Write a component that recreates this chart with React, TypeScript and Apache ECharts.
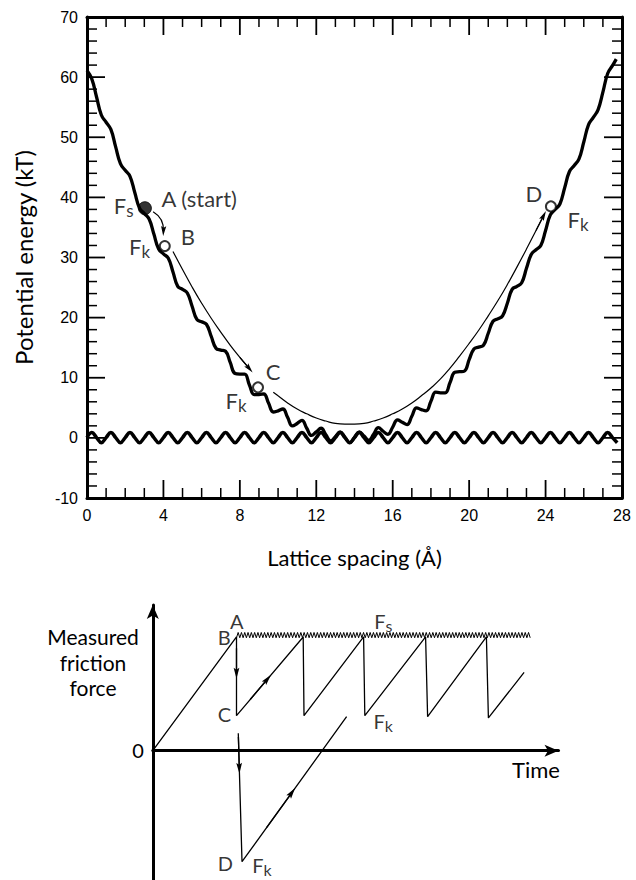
import React, { useEffect, useRef } from "react";
import * as echarts from "echarts";

// ================= TOP PANEL DATA =================
// curves are digitised at a regular step along the lattice-spacing axis (Å)
const SAMPLE_STEP = 0.25;

// corrugated potential (thick curve), x = 0 … 27.5 Å
const corrugatedEnergy = [
  61.1, 59.7, 56.7, 53.7,
  52.5, 51.3, 48.4, 45.6,
  44.5, 43.5, 40.8, 38.2,
  37.3, 36.4, 33.9, 31.4,
  30.6, 29.9, 27.6, 25.2,
  24.7, 24.1, 21.9, 19.7,
  19.3, 18.9, 16.9, 14.9,
  14.6, 14.4, 12.5, 10.7,
  10.6, 10.6, 8.8, 7.2,
  7.2, 7.3, 5.8, 4.3,
  4.5, 4.8, 3.4, 2.0,
  2.4, 2.9, 1.6, 0.4,
  1.0, 1.6, 0.5, -0.5,
  0.2, 1.0, 0.1, -0.8,
  0.1, 1.0, 0.3, -0.4,
  0.6, 1.7, 1.1, 0.6,
  1.8, 3.0, 2.6, 2.2,
  3.6, 5.0, 4.7, 4.5,
  6.1, 7.6, 7.5, 7.5,
  9.2, 10.9, 11.0, 11.1,
  13.0, 14.8, 15.1, 15.4,
  17.4, 19.4, 19.8, 20.3,
  22.4, 24.7, 25.2, 25.8,
  28.2, 30.5, 31.3, 32.0,
  34.5, 37.1, 38.0, 38.9,
  41.6, 44.3, 45.3, 46.4,
  49.2, 52.1, 53.3, 54.6,
  57.5, 60.6, 61.9,
];
const corrugatedLastX = 27.7;
const corrugatedLastY = 63.0;

// flat lattice corrugation (thick wave near 0), x = 0 … 27.75 Å
const latticeWave = [
  0.05, 0.9, 0.05, -0.8, 0.05, 0.9, 0.05, -0.8, 0.05, 0.9, 0.05, -0.8, 0.05, 0.9, 0.05, -0.8,
  0.05, 0.9, 0.05, -0.8, 0.05, 0.9, 0.05, -0.8, 0.05, 0.9, 0.05, -0.8, 0.05, 0.9, 0.05, -0.8,
  0.05, 0.9, 0.05, -0.8, 0.05, 0.9, 0.05, -0.8, 0.05, 0.9, 0.05, -0.8, 0.05, 0.9, 0.05, -0.8,
  0.05, 0.9, 0.05, -0.8, 0.05, 0.9, 0.05, -0.8, 0.05, 0.9, 0.05, -0.8, 0.05, 0.9, 0.05, -0.8,
  0.05, 0.9, 0.05, -0.8, 0.05, 0.9, 0.05, -0.8, 0.05, 0.9, 0.05, -0.8, 0.05, 0.9, 0.05, -0.8,
  0.05, 0.9, 0.05, -0.8, 0.05, 0.9, 0.05, -0.8, 0.05, 0.9, 0.05, -0.8, 0.05, 0.9, 0.05, -0.8,
  0.05, 0.9, 0.05, -0.8, 0.05, 0.9, 0.05, -0.8, 0.05, 0.9, 0.05, -0.8, 0.05, 0.9, 0.05, -0.8,
];

// smooth (thin) path, two segments
const pathLeftX = [4.5, 5, 5.5, 6, 6.5, 7, 7.5, 8, 8.5];
const pathLeftY = [31.0, 28.0, 25.1, 22.4, 19.9, 17.6, 15.4, 13.4, 11.5];
const pathRightX = [9.75, 10, 10.5, 11, 11.5, 12, 12.5, 13, 13.5, 14, 14.5, 15, 15.5, 16, 16.5, 17, 17.5, 18, 18.5, 19, 19.5, 20, 20.5, 21, 21.5, 22, 22.5, 23, 23.5, 23.9];
const pathRightY = [7.6, 7.0, 5.8, 4.8, 4.0, 3.3, 2.8, 2.4, 2.3, 2.3, 2.4, 2.8, 3.3, 4.0, 4.8, 5.8, 7.0, 8.3, 9.8, 11.6, 13.6, 15.7, 17.9, 20.3, 22.8, 25.5, 28.4, 31.4, 34.5, 37.0];

// state points A (filled), B, C, D (open)
const stateNames = ["A", "B", "C", "D"];
const stateX = [3.03, 4.07, 8.95, 24.28];
const stateY = [38.2, 31.9, 8.4, 38.5];
const stateFilled = [true, false, false, false];

// small curved arrow from A to B
const slipArrowFrom = [3.46, 37.6];
const slipArrowTo = [4.0, 34.4];

// text annotations (left edge, vertical middle)
const topLabelText = ["A (start)", "F", "B", "F", "C", "F", "D", "F"];
const topLabelSub = ["", "s", "", "k", "", "k", "", "k"];
const topLabelX = [3.9, 1.4, 4.9, 2.2, 9.35, 7.25, 22.95, 25.15];
const topLabelY = [39.75, 38.6, 33.5, 31.9, 10.96, 6.14, 40.6, 36.4];

// axis ranges and tick spacing of the top panel
const xMin = 0;
const xMax = 28;
const xTickStep = 4;
const xMinorStep = 1;
const yMin = -10;
const yMax = 70;
const yTickStep = 10;
const yMinorStep = 2;

// ================= BOTTOM PANEL DATA (schematic units) =================
const traceX = [0, 20.63, 20.63, 37.07, 37.27, 51.96, 52.26, 67.24, 67.74, 82.23, 82.72, 91.52];
const traceY = [0, 1, 0.308, 1, 0.308, 1, 0.308, 1, 0.299, 1, 0.288, 0.688];
const branchX = [21.07, 21.99, 47.77];
const branchY = [0.153, -0.976, 0.299];
const staticLevelFrom = 20.63;
const staticLevelTo = 93.22;
const staticLevel = 1;
const bottomArrowFromX = [20.63, 24, 21.1, 28];
const bottomArrowFromY = [0.9, 0.45, 0.12, -0.679];
const bottomArrowToX = [20.63, 28.27, 21.32, 34.29];
const bottomArrowToY = [0.681, 0.63, -0.155, -0.368];
const bottomLabelText = ["A", "B", "F", "C", "F", "D", "F"];
const bottomLabelSub = ["", "", "s", "", "k", "", "k"];
const bottomLabelX = [19.0, 16.0, 54.6, 16.0, 54.4, 16.0, 24.5];
const bottomLabelY = [1.136, 0.996, 1.136, 0.32, 0.263, -0.99, -1.005];

const FONT = "Lato, 'Open Sans', sans-serif";
const NUM_FONT = "'Liberation Sans', Arial, sans-serif";
const ARROW = "path://M-5,0 M5,10 M0,0 L2.6,10 L0,8.2 L-2.6,10 Z";

const TOP_GRID = { left: 87, top: 17, width: 535, height: 481 };
const MAJOR_LEN = 18;
const MINOR_LEN = 10;

const zip = (xs: number[], ys: number[]) => xs.map((x, i) => [x, ys[i]]);

function frameAxis(min: number, max: number, interval: number, position: string, labels: boolean) {
  return {
    type: "value",
    gridIndex: 0,
    position,
    min,
    max,
    interval,
    axisLine: { show: true, onZero: false, lineStyle: { color: "#000", width: 3 } },
    axisTick: { show: false },
    minorTick: { show: false },
    splitLine: { show: false },
    minorSplitLine: { show: false },
    axisLabel: { show: labels, color: "#000", fontSize: 16, fontFamily: NUM_FONT, margin: 9 },
  };
}

const isMultiple = (v: number, base: number, step: number) => {
  const r = (v - base) / step;
  return Math.abs(r - Math.round(r)) < 1e-6;
};

// tick marks as thin rectangular symbols anchored on the frame, pointing inward
function frameTickItems() {
  const items: any[] = [];
  for (let v = xMin; v <= xMax + 1e-9; v += xMinorStep) {
    const major = isMultiple(v, xMin, xTickStep);
    const len = major ? MAJOR_LEN : MINOR_LEN;
    const w = major ? 1.8 : 1.5;
    items.push({ value: [v, yMin], symbolSize: [w, len], symbolOffset: [0, -len / 2] });
    items.push({ value: [v, yMax], symbolSize: [w, len], symbolOffset: [0, len / 2] });
  }
  for (let v = yMin; v <= yMax + 1e-9; v += yMinorStep) {
    const major = isMultiple(v, yMin, yTickStep);
    const len = major ? MAJOR_LEN : MINOR_LEN;
    const w = major ? 1.8 : 1.5;
    items.push({ value: [xMin, v], symbolSize: [len, w], symbolOffset: [len / 2, 0] });
    items.push({ value: [xMax, v], symbolSize: [len, w], symbolOffset: [-len / 2, 0] });
  }
  return items;
}

function labelSeries(axisIdx: number, texts: string[], subs: string[], xs: number[], ys: number[], big: number, small: number, pad: number) {
  return {
    type: "scatter",
    xAxisIndex: axisIdx,
    yAxisIndex: axisIdx,
    symbolSize: 1,
    silent: true,
    z: 10,
    itemStyle: { color: "rgba(0,0,0,0)" },
    label: {
      show: true,
      position: "inside",
      align: "left",
      verticalAlign: "middle",
      rich: {
        f: { fontSize: big, fontFamily: FONT, color: "#000" },
        s: { fontSize: small, fontFamily: FONT, color: "#000", padding: [pad, 0, 0, 0] },
      },
    },
    data: texts.map((t, i) => ({
      value: [xs[i], ys[i]],
      label: { formatter: subs[i] ? `{f|${t}}{s|${subs[i]}}` : `{f|${t}}` },
    })),
  };
}

export default function App() {
  const ref = useRef<HTMLDivElement>(null);

  useEffect(() => {
    if (!ref.current) return;
    const chart = echarts.init(ref.current, undefined, { renderer: "svg" });

    const corrugated = corrugatedEnergy.map((y, i) => [i * SAMPLE_STEP, y]);
    corrugated.push([corrugatedLastX, corrugatedLastY]);
    const wave = latticeWave.map((y, i) => [i * SAMPLE_STEP, y]);
    const leftPath = zip(pathLeftX, pathLeftY);
    const rightPath = zip(pathRightX, pathRightY);

    const option: any = {
      animation: false,
      backgroundColor: "#fff",
      grid: [
        { show: false, ...TOP_GRID },
        { show: false, left: 152.8, top: 605, width: 405.7, height: 275 },
      ],
      xAxis: [
        {
          ...frameAxis(xMin, xMax, xTickStep, "bottom", true),
          name: "Lattice spacing (Å)",
          nameLocation: "middle",
          nameGap: 48,
          nameTextStyle: { fontSize: 22, fontFamily: FONT, color: "#000" },
        },
        frameAxis(xMin, xMax, xTickStep, "top", false),
        {
          type: "value",
          gridIndex: 1,
          min: 0,
          max: 100,
          axisLine: { show: true, onZero: true, symbol: ["none", "arrow"], symbolSize: [9, 14], lineStyle: { color: "#000", width: 3 } },
          axisTick: { show: false },
          axisLabel: { show: false },
          splitLine: { show: false },
        },
      ],
      yAxis: [
        {
          ...frameAxis(yMin, yMax, yTickStep, "left", true),
          name: "Potential energy (kT)",
          nameLocation: "middle",
          nameRotate: 90,
          nameGap: 52,
          nameTextStyle: { fontSize: 24, fontFamily: FONT, color: "#000" },
        },
        frameAxis(yMin, yMax, yTickStep, "right", false),
        {
          type: "value",
          gridIndex: 1,
          min: -1.137,
          max: 1.281,
          axisLine: { show: true, onZero: true, symbol: ["none", "arrow"], symbolSize: [9, 14], lineStyle: { color: "#000", width: 3 } },
          axisTick: { show: false },
          axisLabel: { show: false },
          splitLine: { show: false },
        },
      ],
      graphic: [
        {
          type: "text",
          x: 93,
          y: 662,
          style: { text: "Measured\nfriction\nforce", fontSize: 21, fontFamily: FONT, fill: "#000", align: "center", verticalAlign: "middle", lineHeight: 25.5 },
        },
        { type: "text", x: 138, y: 750, style: { text: "0", fontSize: 20, fontFamily: FONT, fill: "#000", align: "center", verticalAlign: "middle" } },
        { type: "text", x: 536, y: 769, style: { text: "Time", fontSize: 22, fontFamily: FONT, fill: "#000", align: "center", verticalAlign: "middle" } },
      ],
      series: [
        // ---------- top panel: inward frame ticks ----------
        {
          type: "scatter",
          xAxisIndex: 0,
          yAxisIndex: 0,
          symbol: "rect",
          silent: true,
          clip: false,
          z: 7,
          itemStyle: { color: "#000", opacity: 1 },
          data: frameTickItems(),
        },
        // ---------- top panel: curves ----------
        { type: "line", xAxisIndex: 0, yAxisIndex: 0, data: wave, symbol: "none", smooth: 0.45, silent: true, lineStyle: { color: "#000", width: 3.5 }, z: 3 },
        { type: "line", xAxisIndex: 0, yAxisIndex: 0, data: corrugated, symbol: "none", smooth: 0.45, silent: true, lineStyle: { color: "#000", width: 3.3 }, z: 3 },
        { type: "line", xAxisIndex: 0, yAxisIndex: 0, data: leftPath, symbol: "none", smooth: true, silent: true, lineStyle: { color: "#000", width: 1.2 }, z: 4 },
        { type: "line", xAxisIndex: 0, yAxisIndex: 0, data: rightPath, symbol: "none", smooth: true, silent: true, lineStyle: { color: "#000", width: 1.2 }, z: 4 },
        {
          type: "lines",
          coordinateSystem: "cartesian2d",
          xAxisIndex: 0,
          yAxisIndex: 0,
          silent: true,
          symbol: ["none", ARROW],
          symbolSize: 10,
          lineStyle: { color: "#000", width: 1.2, opacity: 1 },
          z: 5,
          data: [
            { coords: [leftPath[leftPath.length - 2], leftPath[leftPath.length - 1]] },
            { coords: [rightPath[rightPath.length - 2], rightPath[rightPath.length - 1]] },
            { coords: [slipArrowFrom, slipArrowTo], lineStyle: { curveness: 0.3 } },
          ],
        },
        {
          type: "scatter",
          xAxisIndex: 0,
          yAxisIndex: 0,
          silent: true,
          z: 8,
          data: stateNames.map((n, i) => ({
            name: n,
            value: [stateX[i], stateY[i]],
            symbolSize: stateFilled[i] ? 13 : 10,
            itemStyle: stateFilled[i]
              ? { color: "#000", borderColor: "#000", borderWidth: 1 }
              : { color: "#fff", borderColor: "#000", borderWidth: 2 },
          })),
        },
        labelSeries(0, topLabelText, topLabelSub, topLabelX, topLabelY, 22, 17, 10),

        // ---------- bottom panel ----------
        { type: "line", xAxisIndex: 2, yAxisIndex: 2, data: zip(traceX, traceY), symbol: "none", silent: true, lineStyle: { color: "#000", width: 1.3 }, z: 3 },
        { type: "line", xAxisIndex: 2, yAxisIndex: 2, data: zip(branchX, branchY), symbol: "none", silent: true, lineStyle: { color: "#000", width: 1.3 }, z: 3 },
        {
          type: "custom",
          xAxisIndex: 2,
          yAxisIndex: 2,
          silent: true,
          z: 3,
          data: [[staticLevelFrom, staticLevelTo, staticLevel]],
          encode: { x: [0, 1], y: 2 },
          renderItem: (params: any, api: any) => {
            const a = api.coord([api.value(0), api.value(2)]);
            const b = api.coord([api.value(1), api.value(2)]);
            const pts: number[][] = [];
            const half = 1.65;
            let i = 0;
            for (let x = a[0]; x <= b[0]; x += half, i++) {
              pts.push([x, i % 2 ? a[1] - 4.5 : a[1] + 0.8]);
            }
            return { type: "polyline", shape: { points: pts }, style: { stroke: "#000", lineWidth: 1, fill: null } };
          },
        },
        {
          type: "lines",
          coordinateSystem: "cartesian2d",
          xAxisIndex: 2,
          yAxisIndex: 2,
          silent: true,
          symbol: ["none", ARROW],
          symbolSize: 11,
          lineStyle: { color: "#000", width: 1.3, opacity: 1 },
          z: 5,
          data: bottomArrowFromX.map((x, i) => ({
            coords: [
              [x, bottomArrowFromY[i]],
              [bottomArrowToX[i], bottomArrowToY[i]],
            ],
          })),
        },
        labelSeries(2, bottomLabelText, bottomLabelSub, bottomLabelX, bottomLabelY, 20, 16, 9),
      ],
    };

    chart.setOption(option);
    return () => chart.dispose();
  }, []);

  return (
    <div
      ref={ref}
      style={{ position: "absolute", left: 0, top: 0, width: 636, height: 880, background: "#fff" }}
    />
  );
}
